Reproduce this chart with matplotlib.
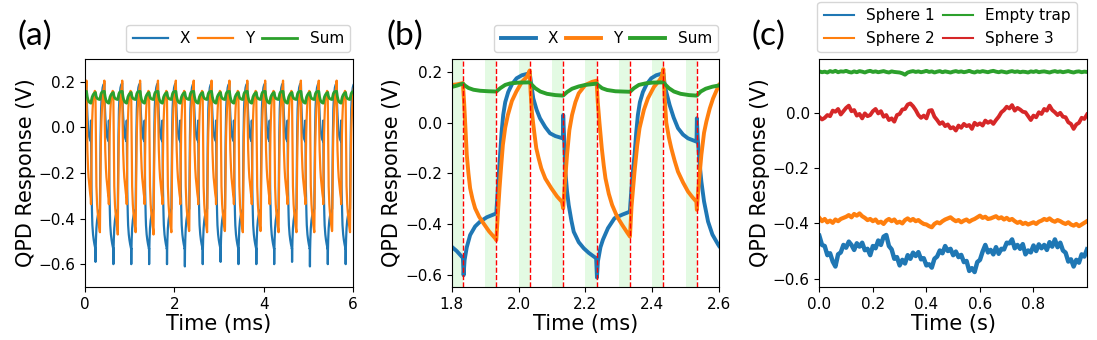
"""
plot.py

QPD response: (a) long trace, (b) zoom on a few periods, (c) static traps.
"""

import matplotlib
matplotlib.use("Agg")

import numpy as np
import matplotlib.pyplot as plt

# -----------------------------
# Panel (b): zoomed trace (ms, V)
# -----------------------------
tx_b = [1.800, 1.815, 1.830, 1.8333, 1.8355, 1.8385, 1.845, 1.855, 1.870, 1.885,
        1.905, 1.920, 1.9333, 1.9345, 1.940, 1.9446, 1.949, 1.954, 1.960, 1.969,
        1.980, 1.994, 2.010, 2.0333, 2.038, 2.044, 2.054, 2.064, 2.080, 2.094,
        2.110, 2.1325, 2.1335, 2.136, 2.140, 2.145, 2.150, 2.158, 2.165, 2.180,
        2.195, 2.210, 2.232, 2.2345, 2.2375, 2.245, 2.2525, 2.2675, 2.287, 2.310,
        2.333, 2.3345, 2.340, 2.347, 2.352, 2.357, 2.363, 2.372, 2.383, 2.397,
        2.412, 2.4333, 2.438, 2.452, 2.464, 2.477, 2.492, 2.507, 2.5325, 2.5335,
        2.536, 2.541, 2.547, 2.555, 2.567, 2.580, 2.597, 2.600]
x_b = [-0.488, -0.505, -0.527, -0.530, -0.600, -0.540, -0.490, -0.442, -0.408, -0.389,
       -0.372, -0.364, -0.357, -0.330, -0.220, -0.127, -0.040, 0.030, 0.080, 0.120,
       0.150, 0.174, 0.186, 0.194, 0.150, 0.095, 0.050, 0.017, -0.018, -0.042,
       -0.053, -0.062, 0.030, -0.050, -0.193, -0.270, -0.324, -0.385, -0.429, -0.470,
       -0.494, -0.512, -0.533, -0.609, -0.545, -0.490, -0.460, -0.415, -0.376, -0.362,
       -0.350, -0.320, -0.220, -0.127, -0.040, 0.030, 0.080, 0.120, 0.150, 0.174,
       0.186, 0.194, 0.140, 0.069, 0.020, -0.022, -0.047, -0.062, -0.075, 0.017,
       -0.060, -0.150, -0.232, -0.310, -0.389, -0.440, -0.479, -0.485]

ty_b = [1.800, 1.815, 1.8333, 1.837, 1.840, 1.845, 1.850, 1.855, 1.862, 1.870,
        1.882, 1.895, 1.912, 1.930, 1.9333, 1.938, 1.943, 1.948, 1.953, 1.960,
        1.968, 1.980, 1.993, 2.010, 2.025, 2.0333, 2.036, 2.040, 2.043, 2.048,
        2.053, 2.060, 2.068, 2.080, 2.098, 2.115, 2.130, 2.1335, 2.138, 2.145,
        2.152, 2.160, 2.170, 2.180, 2.200, 2.220, 2.2333, 2.237, 2.242, 2.249,
        2.255, 2.260, 2.270, 2.280, 2.295, 2.310, 2.325, 2.3333, 2.338, 2.347,
        2.355, 2.362, 2.375, 2.387, 2.405, 2.422, 2.428, 2.4333, 2.437, 2.442,
        2.450, 2.457, 2.467, 2.477, 2.492, 2.507, 2.520, 2.532, 2.5335, 2.538,
        2.547, 2.555, 2.562, 2.572, 2.582, 2.592, 2.600]
y_b = [0.148, 0.150, 0.155, 0.080, 0.004, -0.127, -0.200, -0.258, -0.300, -0.337,
       -0.370, -0.396, -0.428, -0.455, -0.462, -0.360, -0.258, -0.170, -0.088, -0.020,
       0.030, 0.085, 0.121, 0.160, 0.180, 0.205, 0.120, 0.040, 0.004, -0.050,
       -0.101, -0.140, -0.180, -0.220, -0.258, -0.290, -0.312, -0.337, -0.250, -0.127,
       -0.030, 0.030, 0.080, 0.115, 0.148, 0.160, 0.165, 0.080, 0.000, -0.101,
       -0.170, -0.219, -0.280, -0.324, -0.370, -0.402, -0.432, -0.448, -0.330, -0.193,
       -0.090, -0.022, 0.050, 0.095, 0.140, 0.167, 0.180, 0.210, 0.100, 0.000,
       -0.060, -0.101, -0.150, -0.193, -0.235, -0.271, -0.293, -0.311, -0.343, -0.260,
       -0.127, -0.040, 0.004, 0.055, 0.095, 0.125, 0.148]

ts_b = [1.800, 1.815, 1.8333, 1.840, 1.850, 1.865, 1.885, 1.910, 1.9333, 1.945,
        1.960, 1.975, 2.000, 2.0333, 2.040, 2.050, 2.065, 2.085, 2.110, 2.1333,
        2.145, 2.160, 2.180, 2.200, 2.2333, 2.240, 2.250, 2.265, 2.290, 2.3333,
        2.345, 2.360, 2.380, 2.400, 2.4333, 2.440, 2.450, 2.465, 2.485, 2.510,
        2.5333, 2.545, 2.560, 2.580, 2.600]
s_b = [0.140, 0.145, 0.153, 0.145, 0.136, 0.129, 0.125, 0.123, 0.122, 0.135,
       0.148, 0.154, 0.157, 0.158, 0.148, 0.135, 0.122, 0.113, 0.108, 0.106,
       0.120, 0.133, 0.142, 0.148, 0.153, 0.145, 0.135, 0.128, 0.123, 0.121,
       0.135, 0.148, 0.154, 0.157, 0.158, 0.148, 0.135, 0.122, 0.113, 0.108,
       0.106, 0.122, 0.133, 0.141, 0.146]

# trigger times (red dashed lines) and shaded windows before them
trigger_b = [1.8333, 1.9333, 2.0333, 2.1333, 2.2333, 2.3333, 2.4333, 2.5333]
shade_start_b = [1.800, 1.900, 2.000, 2.100, 2.200, 2.300, 2.400, 2.500]

# -----------------------------
# Panel (a): same 0.4 ms cycle, per-cycle extremes
# -----------------------------
cycle_start_a = [-0.1667, 0.2333, 0.6333, 1.0333, 1.4333, 1.8333, 2.2333, 2.6333,
                 3.0333, 3.4333, 3.8333, 4.2333, 4.6333, 5.0333, 5.4333, 5.8333]
x_min_a = [-0.59, -0.59, -0.60, -0.60, -0.60, -0.60, -0.61, -0.60,
           -0.59, -0.60, -0.60, -0.60, -0.59, -0.61, -0.60, -0.60]
y_low_a = [-0.46, -0.46, -0.47, -0.46, -0.47, -0.46, -0.45, -0.46,
           -0.45, -0.46, -0.45, -0.46, -0.46, -0.46, -0.45, -0.46]

# -----------------------------
# Panel (c): static traces (s, V)
# -----------------------------
t_c = np.linspace(0, 1, 101)

sphere1 = [-0.445, -0.478, -0.482, -0.515, -0.508, -0.538, -0.556, -0.512, -0.505, -0.478,
           -0.488, -0.466, -0.478, -0.496, -0.472, -0.484, -0.470, -0.497, -0.492, -0.515,
           -0.482, -0.490, -0.462, -0.478, -0.448, -0.442, -0.482, -0.494, -0.528, -0.522,
           -0.552, -0.532, -0.545, -0.515, -0.528, -0.506, -0.518, -0.504, -0.530, -0.526,
           -0.552, -0.548, -0.560, -0.528, -0.520, -0.498, -0.508, -0.482, -0.500, -0.492,
           -0.515, -0.502, -0.522, -0.514, -0.540, -0.536, -0.572, -0.562, -0.576, -0.540,
           -0.532, -0.502, -0.478, -0.505, -0.496, -0.512, -0.486, -0.510, -0.492, -0.494,
           -0.470, -0.472, -0.458, -0.490, -0.478, -0.492, -0.475, -0.512, -0.498, -0.505,
           -0.480, -0.500, -0.476, -0.490, -0.478, -0.496, -0.468, -0.484, -0.458, -0.486,
           -0.470, -0.498, -0.506, -0.538, -0.530, -0.556, -0.532, -0.542, -0.512, -0.520,
           -0.494]

sphere2 = [-0.380, -0.392, -0.384, -0.396, -0.390, -0.398, -0.386, -0.392, -0.384, -0.380,
           -0.376, -0.370, -0.378, -0.366, -0.372, -0.364, -0.374, -0.380, -0.388, -0.384,
           -0.392, -0.386, -0.398, -0.394, -0.402, -0.390, -0.384, -0.392, -0.386, -0.398,
           -0.394, -0.400, -0.388, -0.382, -0.390, -0.384, -0.392, -0.388, -0.396, -0.402,
           -0.404, -0.410, -0.414, -0.402, -0.396, -0.400, -0.392, -0.386, -0.382, -0.378,
           -0.386, -0.392, -0.388, -0.396, -0.390, -0.386, -0.394, -0.388, -0.384, -0.378,
           -0.372, -0.380, -0.376, -0.384, -0.382, -0.378, -0.374, -0.382, -0.378, -0.386,
           -0.380, -0.388, -0.384, -0.392, -0.398, -0.394, -0.402, -0.398, -0.404, -0.400,
           -0.396, -0.402, -0.394, -0.390, -0.384, -0.388, -0.382, -0.390, -0.394, -0.388,
           -0.392, -0.398, -0.402, -0.396, -0.404, -0.408, -0.402, -0.410, -0.404, -0.398,
           -0.392]

empty_trap = [0.150, 0.147, 0.149, 0.146, 0.151, 0.148, 0.152, 0.147, 0.150, 0.149,
              0.152, 0.148, 0.146, 0.150, 0.147, 0.151, 0.149, 0.146, 0.150, 0.152,
              0.148, 0.150, 0.147, 0.149, 0.151, 0.148, 0.146, 0.150, 0.148, 0.147,
              0.146, 0.143, 0.138, 0.146, 0.149, 0.151, 0.148, 0.150, 0.147, 0.149,
              0.152, 0.148, 0.150, 0.146, 0.149, 0.151, 0.147, 0.150, 0.148, 0.146,
              0.149, 0.151, 0.148, 0.150, 0.147, 0.149, 0.152, 0.148, 0.146, 0.150,
              0.148, 0.151, 0.149, 0.147, 0.150, 0.152, 0.149, 0.147, 0.150, 0.148,
              0.146, 0.149, 0.151, 0.148, 0.150, 0.147, 0.149, 0.148, 0.146, 0.150,
              0.148, 0.151, 0.147, 0.149, 0.150, 0.148, 0.146, 0.149, 0.151, 0.148,
              0.150, 0.147, 0.149, 0.151, 0.148, 0.146, 0.149, 0.150, 0.147, 0.149,
              0.148]

sphere3 = [-0.015, -0.024, -0.018, -0.008, -0.012, 0.008, 0.004, 0.014, -0.006, 0.006,
           0.018, 0.026, 0.006, 0.010, -0.010, -0.004, -0.020, -0.002, -0.012, -0.008,
           0.006, 0.014, -0.002, 0.006, -0.014, -0.008, -0.026, -0.020, -0.032, -0.008,
           -0.004, 0.012, 0.014, 0.030, 0.034, 0.024, 0.010, -0.008, -0.018, -0.010,
           -0.020, 0.008, 0.010, -0.014, -0.026, -0.040, -0.034, -0.048, -0.042, -0.056,
           -0.052, -0.064, -0.046, -0.054, -0.040, -0.048, -0.044, -0.058, -0.036, -0.044,
           -0.038, -0.046, -0.028, -0.036, -0.030, -0.040, -0.026, -0.014, 0.002, 0.010,
           0.022, 0.016, 0.028, 0.008, 0.018, 0.012, 0.004, 0.002, -0.012, -0.026,
           -0.010, -0.016, 0.002, -0.004, 0.014, 0.008, 0.026, 0.010, 0.002, -0.008,
           0.000, -0.014, -0.016, -0.034, -0.040, -0.058, -0.042, -0.036, -0.018, -0.022,
           -0.006]


def build_cycles(t_src, v_src, t0, t1, starts, key_time, key_values):
    """Repeat one measured cycle of panel (b) at each start time of panel (a)."""
    t_src = np.asarray(t_src)
    v_src = np.asarray(v_src)
    keep = (t_src >= t0) & (t_src < t1)
    rel_t = t_src[keep] - t0
    base = v_src[keep]
    key = np.argmin(np.abs(t_src[keep] - key_time))

    t_out, v_out = [], []
    for start, key_val in zip(starts, key_values):
        vals = base.copy()
        vals[key] = key_val
        t_out.append(rel_t + start)
        v_out.append(vals)
    return np.concatenate(t_out), np.concatenate(v_out)


plt.rcParams["font.family"] = "DejaVu Sans"

fig = plt.figure(figsize=(10.97, 3.4), dpi=100)

ax_a = fig.add_axes([0.0775, 0.156, 0.2443, 0.6706])
ax_b = fig.add_axes([0.4118, 0.156, 0.2437, 0.6706])
ax_c = fig.add_axes([0.7469, 0.156, 0.2440, 0.6706])

# -----------------------------
# (a)
# -----------------------------
tx_a, x_a = build_cycles(tx_b, x_b, 1.8333, 2.2333, cycle_start_a, 1.8355, x_min_a)
ty_a, y_a = build_cycles(ty_b, y_b, 1.8333, 2.2333, cycle_start_a, 1.9333, y_low_a)
ts_a, s_a = build_cycles(ts_b, s_b, 1.8333, 2.2333, cycle_start_a, 1.8333,
                         [0.153] * len(cycle_start_a))

ax_a.plot(tx_a, x_a, color="C0", lw=1.6, label="X")
ax_a.plot(ty_a, y_a, color="C1", lw=1.6, label="Y")
ax_a.plot(ts_a, s_a, color="C2", lw=2.0, label="Sum")
ax_a.set_xlim(0, 6)
ax_a.set_ylim(-0.7, 0.3)
ax_a.set_xticks([0, 2, 4, 6])
ax_a.set_yticks([-0.6, -0.4, -0.2, 0.0, 0.2])

# -----------------------------
# (b)
# -----------------------------
for s0, tr in zip(shade_start_b, trigger_b):
    ax_b.axvspan(s0, tr, color="#90ee90", alpha=0.25, lw=0)
ax_b.plot(tx_b, x_b, color="C0", lw=2.8, label="X")
ax_b.plot(ty_b, y_b, color="C1", lw=2.8, label="Y")
ax_b.plot(ts_b, s_b, color="C2", lw=2.8, label="Sum")
for tr in trigger_b:
    ax_b.axvline(tr, color="red", ls="--", lw=1)
ax_b.set_xlim(1.8, 2.6)
ax_b.set_ylim(-0.646, 0.25)
ax_b.set_xticks([1.8, 2.0, 2.2, 2.4, 2.6])
ax_b.set_yticks([-0.6, -0.4, -0.2, 0.0, 0.2])

# -----------------------------
# (c)
# -----------------------------
ax_c.plot(t_c, sphere1, color="C0", lw=3.2, label="Sphere 1")
ax_c.plot(t_c, sphere2, color="C1", lw=3.0, label="Sphere 2")
ax_c.plot(t_c, empty_trap, color="C2", lw=2.8, label="Empty trap")
ax_c.plot(t_c, sphere3, color="C3", lw=2.8, label="Sphere 3")
ax_c.set_xlim(0, 1.0)
ax_c.set_ylim(-0.63, 0.195)
ax_c.set_xticks([0.0, 0.2, 0.4, 0.6, 0.8])
ax_c.set_yticks([-0.6, -0.4, -0.2, 0.0])

for ax, xlabel in [(ax_a, "Time (ms)"), (ax_b, "Time (ms)"), (ax_c, "Time (s)")]:
    ax.set_xlabel(xlabel, fontsize=15, labelpad=2)
    ax.set_ylabel("QPD Response (V)", fontsize=15, labelpad=2)
    ax.tick_params(labelsize=11)

ax_a.legend(loc="lower right", bbox_to_anchor=(0.989, 1.03), ncol=3,
            fontsize=11, columnspacing=0.5, handlelength=2.3, borderaxespad=0)
ax_b.legend(loc="lower right", bbox_to_anchor=(0.996, 1.03), ncol=3,
            fontsize=11, columnspacing=0.5, handlelength=2.3, borderaxespad=0)
leg_c = ax_c.legend(loc="lower right", bbox_to_anchor=(0.963, 1.03), ncol=2,
                    fontsize=11, columnspacing=0.5, borderaxespad=0)
for line in leg_c.get_lines():
    line.set_linewidth(1.5)

fig.text(0.016, 0.895, "(a)", fontsize=24, family="Lato", va="center")
fig.text(0.352, 0.895, "(b)", fontsize=24, family="Lato", va="center")
fig.text(0.685, 0.895, "(c)", fontsize=24, family="Lato", va="center")

plt.savefig("out.png", dpi=100)
plt.close()
